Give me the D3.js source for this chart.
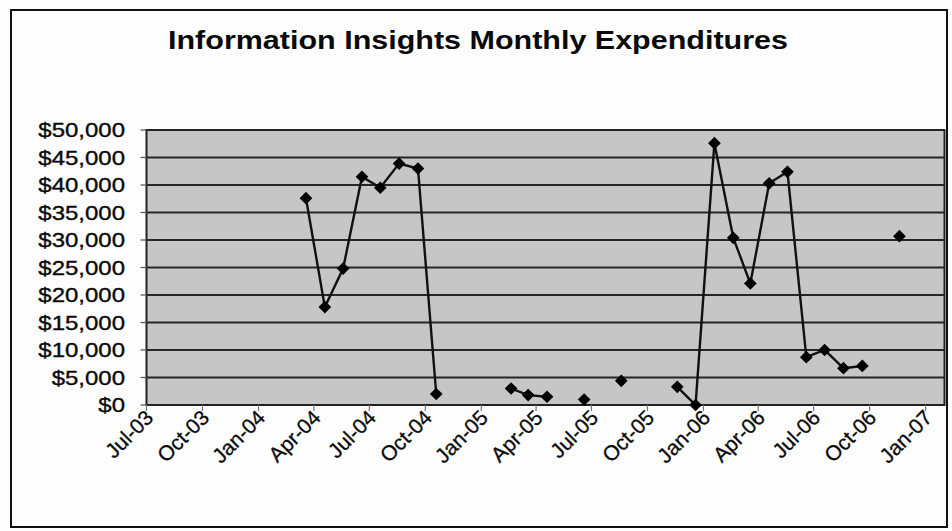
<!DOCTYPE html>
<html>
<head>
<meta charset="utf-8">
<script src="https://cdn.jsdelivr.net/npm/d3@7"></script>
<style>
  html, body { margin: 0; padding: 0; background: #fdfdfd; }
  svg { display: block; }
  text { font-family: "Liberation Sans", Arial, sans-serif; fill: #0a0a0a; }
</style>
</head>
<body>
<svg id="chart" width="952" height="531"></svg>
<script>
// ---- data ----
const title = "Information Insights Monthly Expenditures";
const months = ["Mar-04","Apr-04","May-04","Jun-04","Jul-04","Aug-04","Sep-04","Oct-04",
  "Nov-04","Dec-04","Jan-05","Feb-05","Mar-05","Apr-05","May-05","Jun-05","Jul-05",
  "Aug-05","Sep-05","Oct-05","Nov-05","Dec-05","Jan-06","Feb-06","Mar-06","Apr-06",
  "May-06","Jun-06","Jul-06","Aug-06","Sep-06","Oct-06","Nov-06"];
const expenditures = [37600,17800,24800,41500,39500,43900,43000,2000,
  null,null,null,3000,1800,1500,null,1000,null,
  4400,null,null,3300,0,47600,30400,22100,40300,
  42400,8700,10000,6700,7100,null,30700];
const yTicks = [0,5000,10000,15000,20000,25000,30000,35000,40000,45000,50000];
const xTickLabels = ["Jul-03","Oct-03","Jan-04","Apr-04","Jul-04","Oct-04","Jan-05",
  "Apr-05","Jul-05","Oct-05","Jan-06","Apr-06","Jul-06","Oct-06","Jan-07"];
const xDomain = ["Jul-03","Feb-07"];
const plotDay = 19; // day of month each monthly value is dated at

// ---- layout ----
const W = 952, H = 531;
const M = { left: 146.5, right: 944.5, top: 130, bottom: 405 };

const parse = d3.timeParse("%b-%y");
const data = months.map((m, i) => ({ date: d3.timeDay.offset(parse(m), plotDay - 1), value: expenditures[i] }));

const svg = d3.select("#chart");

// outer chart border
svg.append("rect").attr("x", 11).attr("y", 10).attr("width", 936).attr("height", 517)
  .attr("fill", "#fdfdfd").attr("stroke", "#111").attr("stroke-width", 2);

const x = d3.scaleTime().domain(xDomain.map(parse)).range([M.left, M.right]);
const y = d3.scaleLinear().domain([0, 50000]).range([M.bottom, M.top]);

// plot area
svg.append("rect").attr("x", M.left).attr("y", M.top)
  .attr("width", M.right - M.left).attr("height", M.bottom - M.top)
  .attr("fill", "#c6c6c6");

// gridlines
svg.append("g").selectAll("line").data(yTicks).join("line")
  .attr("x1", M.left).attr("x2", M.right)
  .attr("y1", d => y(d)).attr("y2", d => y(d))
  .attr("stroke", "#262626").attr("stroke-width", 2);

// plot border
svg.append("rect").attr("x", M.left).attr("y", M.top)
  .attr("width", M.right - M.left).attr("height", M.bottom - M.top)
  .attr("fill", "none").attr("stroke", "#222").attr("stroke-width", 2);

// y axis ticks + labels
const fmt = d3.format("$,");
const yAxis = svg.append("g");
yAxis.selectAll("line").data(yTicks).join("line")
  .attr("x1", M.left - 6).attr("x2", M.left)
  .attr("y1", d => y(d)).attr("y2", d => y(d))
  .attr("stroke", "#555").attr("stroke-width", 1.2);
yAxis.selectAll("g.lab").data(yTicks).join("g").attr("class", "lab")
  .attr("transform", d => `translate(125,${y(d)}) scale(1.2,1)`)
  .append("text").attr("text-anchor", "end").attr("dy", "0.36em")
  .style("font-size", "20px").style("stroke", "#0a0a0a").style("stroke-width", 0.35)
  .text(d => fmt(d));

// x axis ticks + labels
const xTicks = xTickLabels.map(parse);
const xAxis = svg.append("g");
xAxis.selectAll("line").data(xTicks).join("line")
  .attr("x1", d => x(d)).attr("x2", d => x(d))
  .attr("y1", M.bottom).attr("y2", M.bottom + 6)
  .attr("stroke", "#777").attr("stroke-width", 1.2);
xAxis.selectAll("text").data(xTicks).join("text")
  .attr("text-anchor", "end")
  .attr("transform", d => `translate(${x(d) + 8},${M.bottom + 14}) rotate(-45)`)
  .style("font-size", "21px").style("stroke", "#0a0a0a").style("stroke-width", 0.3)
  .text(d => d3.timeFormat("%b-%y")(d));

// series line
const line = d3.line().defined(d => d.value != null)
  .x(d => x(d.date)).y(d => y(d.value));
svg.append("path").datum(data).attr("d", line)
  .attr("fill", "none").attr("stroke", "#111").attr("stroke-width", 2.4);

// markers (diamonds)
const diamond = d3.symbol().type(d3.symbolSquare).size(81);
svg.append("g").selectAll("path").data(data.filter(d => d.value != null)).join("path")
  .attr("d", diamond)
  .attr("transform", d => `translate(${x(d.date)},${y(d.value)}) rotate(45)`)
  .attr("fill", "#000");

// title
svg.append("g").attr("transform", `translate(478,49) scale(1.22,1)`)
  .append("text").attr("text-anchor", "middle")
  .style("font-size", "25px").style("font-weight", "bold").text(title);
</script>
</body>
</html>
